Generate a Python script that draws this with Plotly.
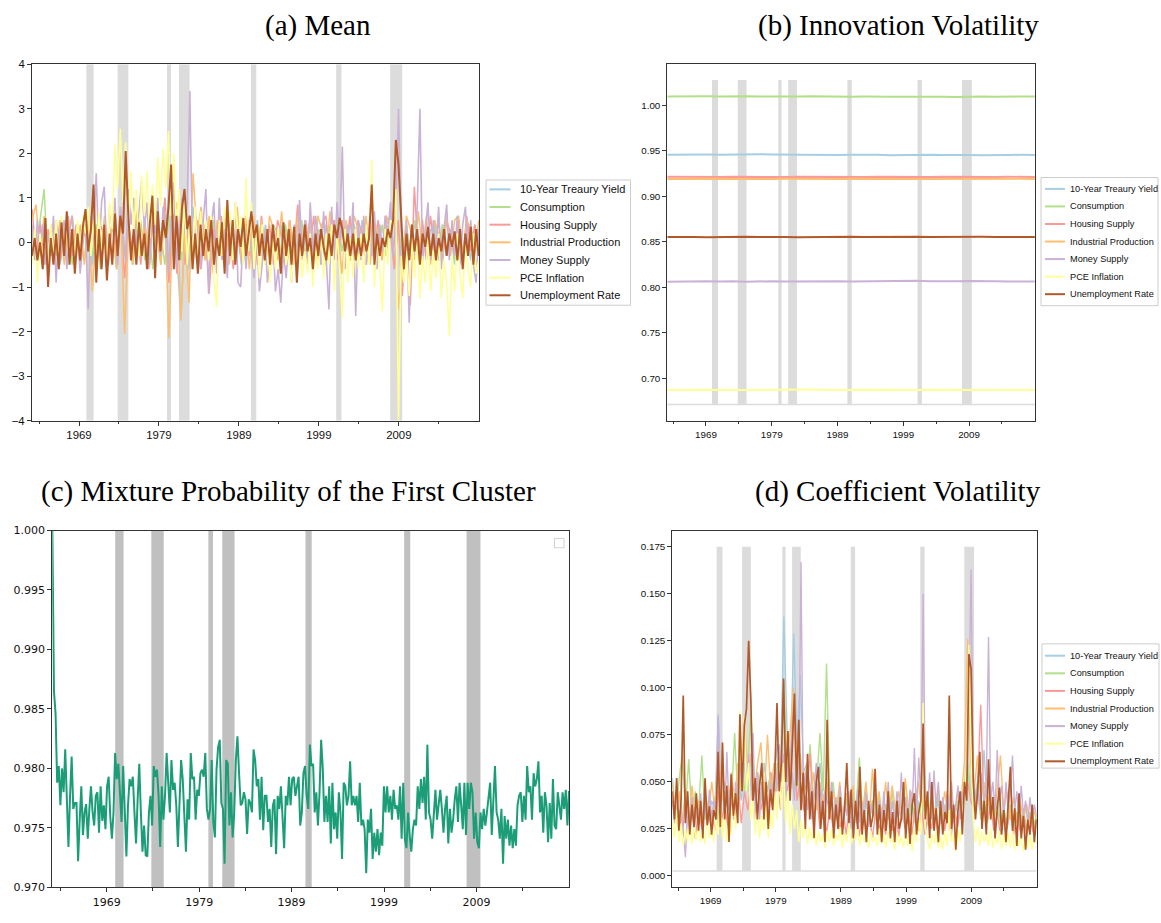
import numpy as np
import plotly.graph_objects as go

W, H = 1161, 923

# ---------------------------------------------------------------- data
START, END = 1963.125, 2019.0          # first / last observation (fractional year)

SERIES_NAMES = ["10-Year Treaury Yield", "Consumption", "Housing Supply",
                "Industrial Production", "Money Supply", "PCE Inflation",
                "Unemployment Rate"]
TICK_YEARS = [1969, 1979, 1989, 1999, 2009]
MINOR_YEARS = [1964, 1974, 1984, 1994, 2004, 2014]

# NBER recessions (fractional years)
REC_START = [1969.92, 1973.83, 1980.0, 1981.5, 1990.5, 2001.17, 2007.92]
REC_END = [1970.83, 1975.17, 1980.5, 1982.83, 1991.17, 2001.83, 2009.42]

# (a) mean
MEAN_TREASURY = [0.4,-0.3,0.5,-0.4,0.3,-0.2,0.4,-0.5,0.3,0.5,-0.3,0.4,-0.4,0.3,0.2,-0.5,0.4,-0.3,0.5,-0.2,0.4,-0.6,0.5,-0.3,
    0.4,-0.5,0.6,-0.3,0.5,-0.4,0.6,0.3,-0.5,1.0,-0.4,0.6,-0.3,-1.75,0.5,-0.6,0.8,-0.3,0.5,-0.4,0.3,-0.5,0.4,0.2,
    -0.4,0.5,-0.3,0.4,-0.5,0.3,0.2,-0.4,0.5,-0.3,0.4,-0.5,0.3,-0.2,0.4,-0.4,0.5,-0.3,0.4,0.2,-0.4,0.5,-0.3,0.3,
    -0.5,0.4,-0.2,0.5,-0.4,0.3,-0.3,0.4,0.2,-0.4,0.5,-0.3,0.4,-0.5,0.3,-0.2,0.4,0.6,-0.4,0.3,-0.5,0.4,-0.3,0.5,
    -0.2,0.4,-0.4,0.3,0.2,-0.4,0.4,-0.3,0.3,-0.5,0.4,-0.2,0.3,-0.4,0.4,-0.3]
MEAN_CONSUMPTION = [0.3,-0.4,0.5,1.2,-0.6,0.4,-0.3,0.5,-0.2,0.4,-0.5,0.3,0.2,-0.4,0.5,-0.3,0.4,-0.6,0.3,-0.2,0.5,-0.4,0.6,-0.3,
    0.4,-0.5,0.3,0.5,-0.4,0.3,-0.6,0.4,0.2,-0.5,0.6,-0.3,0.4,-0.4,0.5,-0.2,0.3,-0.5,0.4,0.2,-0.3,0.5,-0.4,0.3,
    -0.2,0.4,-0.5,0.3,0.1,-0.4,0.5,-0.3,0.4,-0.2,0.3,-0.5,0.4,0.2,-0.3,0.4,-0.4,0.3,-0.2,0.5,-0.3,0.4,-0.5,0.3,
    0.2,-0.4,0.4,-0.3,0.5,-0.2,0.3,-0.4,0.4,0.1,-0.3,0.5,-0.4,0.3,-0.2,0.4,-0.3,0.5,-0.5,0.3,-0.2,0.4,-0.3,0.5,
    -0.4,0.3,0.2,-0.4,0.5,-0.3,0.4,-0.2,0.3,-0.4,0.5,-0.3,0.3,0.4,-0.3,0.3]
MEAN_HOUSING = [0.75,-0.3,0.4,-0.5,0.3,-0.2,0.5,-0.4,0.2,0.6,-0.3,0.4,-0.6,0.3,-0.2,0.5,-0.6,0.4,0.1,-0.5,0.6,-0.3,0.5,-0.8,
    0.4,-0.2,0.6,-0.5,0.3,-0.6,0.5,0.9,-0.4,1.0,-0.9,0.5,-0.7,0.4,-0.5,0.6,-0.3,0.5,-0.6,0.4,-1.15,0.3,-0.4,0.6,
    -0.2,0.5,-0.6,0.3,-0.4,0.6,-0.3,0.5,-0.5,0.6,-0.3,0.4,-0.5,0.5,0.2,-0.4,0.5,-0.3,0.85,-0.4,0.5,-0.2,0.6,-0.5,
    0.4,0.6,-0.3,0.5,-0.4,0.5,-0.2,0.6,-0.4,0.5,0.2,-0.5,0.6,-0.3,0.5,-0.4,0.6,0.3,-0.6,0.5,-1.2,0.4,-1.4,1.25,
    -0.3,0.5,-0.4,0.6,-0.2,0.5,-0.4,0.5,0.2,-0.3,0.5,-0.4,0.6,-0.2,0.4,-0.3]
MEAN_INDPRO = [0.5,0.85,-0.3,0.6,-0.4,0.4,-0.2,0.5,-0.5,0.3,0.6,-0.3,0.4,-0.5,0.5,-1.1,0.3,-0.4,0.6,-0.2,0.5,-0.6,0.8,-2.05,
    0.4,-0.5,0.7,-0.3,0.5,-0.4,0.6,0.2,-0.5,0.7,-2.15,0.5,0.9,-1.75,0.3,-1.35,1.55,0.2,0.8,-0.4,0.6,-0.7,0.5,-0.3,
    0.7,-0.5,0.4,0.8,-0.4,0.5,-0.6,0.6,-0.2,0.5,-0.5,0.6,0.3,-0.4,0.7,-0.3,0.5,-0.5,0.6,0.2,-0.4,0.5,-0.6,0.6,
    0.3,-0.5,0.7,-0.3,0.2,-0.7,0.5,-0.4,0.6,0.3,-0.3,0.6,-0.5,0.5,0.2,-0.4,0.6,0.3,0.8,-1.5,-0.6,0.6,0.3,-0.4,
    0.7,-0.2,0.6,-0.5,0.5,0.2,-0.4,0.6,-0.3,0.5,0.6,-0.4,0.5,0.3,-0.3,0.5]
MEAN_MONEY = [0.3,-0.4,0.5,-0.2,0.4,-0.5,0.2,-0.3,0.6,-0.9,0.3,-0.2,0.5,-0.6,0.2,0.6,-0.4,0.3,-0.7,0.2,0.4,-1.5,0.6,0.1,
    1.55,-0.3,0.9,1.25,-0.4,0.8,0.3,1.0,-0.5,0.8,0.2,-0.4,1.2,0.4,1.0,-0.2,0.7,1.4,0.3,0.9,-0.5,0.6,0.2,1.0,
    -0.3,0.8,0.4,-0.7,0.5,1.35,-0.6,0.4,1.0,0.2,0.9,3.4,-0.4,0.6,0.2,-0.6,0.5,1.2,-1.15,0.4,0.9,-0.7,1.0,-0.4,
    0.3,-0.8,0.6,-0.3,0.9,-0.9,-1.0,0.3,-0.6,0.5,-0.2,-0.8,0.2,-1.1,-0.5,0.3,-0.9,-0.4,0.2,-1.1,-0.6,-1.35,-0.2,-0.8,
    0.1,-0.9,0.4,-0.5,0.95,-0.3,0.5,-0.6,0.9,-0.2,0.6,0.1,-0.5,0.7,-0.3,-1.5,0.8,-0.4,0.9,0.1,2.15,-0.6,0.4,-0.3,
    0.9,-1.65,0.5,-0.4,0.6,-0.5,0.3,-0.3,0.7,-0.6,0.4,-0.2,0.6,0.2,0.9,-0.3,0.5,3.0,0.3,-0.6,0.5,-1.8,0.4,-0.3,
    0.8,3.0,-0.5,0.3,0.9,-0.4,0.5,-0.2,0.8,-0.6,0.3,0.85,-0.4,0.5,-0.3,0.6,-0.5,0.4,0.8,-0.3,0.5,-0.5,-0.9,0.3]
MEAN_PCE = [-0.5,0.3,-0.9,0.2,-0.4,0.5,-0.6,0.4,-0.3,0.5,-0.5,0.6,-0.2,0.4,-0.5,0.3,-0.3,0.5,-0.2,0.6,0.2,0.8,-0.3,0.5,
    -0.4,0.7,-0.2,0.4,-0.5,0.9,0.3,2.2,1.2,2.55,0.9,2.25,0.5,1.6,0.2,1.2,-0.3,1.5,0.6,1.6,0.1,1.3,0.4,1.9,
    0.8,2.1,1.2,2.5,0.6,2.0,0.3,1.2,-0.2,0.9,-0.5,0.6,-0.3,0.8,-0.6,0.7,-0.2,0.5,-0.4,0.6,-0.8,-1.45,0.5,-0.3,
    0.8,0.2,0.7,-0.4,0.9,0.1,0.6,-0.5,1.45,-0.2,0.9,-0.6,0.3,-0.8,0.4,-0.5,0.2,-0.9,0.1,-0.6,0.3,-0.7,0.2,-0.5,
    -0.1,-0.9,0.3,-0.6,0.1,-0.8,-0.2,-0.7,0.2,-1.0,-0.1,-0.6,0.3,-0.8,0.2,-0.5,0.4,-1.1,0.2,-0.6,-1.7,0.3,-0.9,0.1,
    -0.8,0.3,-0.6,0.2,-0.9,0.4,-0.5,1.85,-1.0,0.2,-0.6,-1.55,0.3,-0.5,0.5,0.4,1.2,-4.0,-0.3,-0.9,-0.2,-1.2,0.1,-0.8,
    0.2,-1.25,-0.3,-0.9,0.1,-1.1,-0.2,-0.8,0.2,-1.25,-0.4,-0.9,-2.1,-0.3,-1.1,0.2,-0.7,-1.25,0.1,-0.6,-1.0,0.2,-0.7,-0.4]
MEAN_UNEMP = [-0.3,0.1,-0.4,0.0,-0.6,0.55,-1.0,0.1,-0.5,0.2,-0.6,0.45,-0.3,0.7,-0.5,0.3,-0.7,0.2,-0.4,0.35,0.75,-0.2,0.3,1.3,
    -0.9,0.3,-0.6,0.4,-0.85,0.2,-0.5,0.65,-0.3,0.6,0.2,2.05,0.6,-0.4,0.3,-0.5,0.45,-0.3,0.2,-0.6,0.4,1.05,-0.8,0.7,
    -0.2,0.5,0.1,0.8,1.75,-0.6,0.6,-0.4,0.75,1.2,0.3,0.6,-0.6,0.2,-0.7,0.4,-0.3,0.3,-0.2,0.5,-0.5,0.1,-0.3,0.45,
    -0.7,0.95,-0.3,0.5,-0.5,0.3,-0.1,0.55,-0.3,0.2,0.7,0.1,0.4,-0.3,0.2,-0.4,0.3,-0.5,0.4,-0.2,0.1,-0.7,0.45,-0.3,
    0.3,-0.5,0.35,-0.9,0.2,-0.3,0.4,-0.2,0.1,-0.6,0.2,-0.3,0.3,-0.1,-0.4,0.2,-0.3,0.4,0.1,0.55,0.3,-0.2,0.2,-0.3,
    0.2,-0.4,0.1,-0.3,0.2,-0.2,0.1,1.3,-0.5,0.2,-0.3,0.1,-0.1,0.3,0.1,0.5,2.3,1.75,0.4,-0.6,0.2,-0.4,0.4,-0.2,
    0.3,-0.5,0.2,-0.1,0.35,-0.3,0.2,-0.4,0.1,-0.2,0.3,-0.3,0.2,-0.1,0.25,-0.4,0.3,-0.6,0.2,-0.3,0.35,-0.5,0.3,-0.3]

# (b) innovation volatility
IV_TREASURY = [0.9455,0.9458,0.9454,0.9457,0.9455,0.9459,0.9456,0.9461,0.9458,0.9456,0.9459,0.9455,0.9457,0.9454,0.9456,
    0.9458,0.9455,0.9450,0.9453,0.9456,0.9455,0.9452,0.9456,0.9454,0.9451,0.9456,0.9453,0.9455,0.9454]
IV_CONSUMPTION = [1.0096,1.0099,1.0095,1.0098,1.0096,1.0099,1.0097,1.0094,1.0097,1.0099,1.0096,1.0098,1.0095,1.0097,1.0092,
    1.0094,1.0096,1.0093,1.0091,1.0094,1.0097,1.0093,1.0090,1.0095,1.0096,1.0093,1.0092,1.0095,1.0096]
IV_HOUSING = [0.9213,0.9211,0.9214,0.9212,0.9210,0.9213,0.9211,0.9214,0.9212,0.9210,0.9213,0.9211,0.9212,0.9209,0.9212,
    0.9210,0.9213,0.9211,0.9209,0.9212,0.9210,0.9213,0.9211,0.9210,0.9212,0.9211,0.9213,0.9210,0.9212]
IV_INDPRO = [0.9190,0.9192,0.9189,0.9191,0.9193,0.9190,0.9188,0.9191,0.9190,0.9192,0.9189,0.9191,0.9190,0.9188,0.9191,
    0.9189,0.9192,0.9190,0.9188,0.9190,0.9191,0.9189,0.9192,0.9190,0.9189,0.9191,0.9190,0.9192,0.9190]
IV_MONEY = [0.8062,0.8066,0.8063,0.8067,0.8064,0.8068,0.8061,0.8065,0.8068,0.8064,0.8066,0.8063,0.8065,0.8067,0.8064,
    0.8066,0.8069,0.8065,0.8067,0.8071,0.8066,0.8064,0.8068,0.8070,0.8065,0.8067,0.8064,0.8066,0.8065]
IV_PCE = [0.6872,0.6875,0.6873,0.6876,0.6874,0.6870,0.6874,0.6876,0.6873,0.6875,0.6877,0.6874,0.6876,0.6875,0.6873,
    0.6876,0.6874,0.6875,0.6877,0.6874,0.6876,0.6873,0.6875,0.6872,0.6874,0.6876,0.6873,0.6875,0.6874]
IV_UNEMP = [0.8552,0.8555,0.8553,0.8551,0.8554,0.8552,0.8555,0.8553,0.8556,0.8553,0.8551,0.8554,0.8552,0.8553,0.8555,
    0.8552,0.8554,0.8551,0.8553,0.8555,0.8552,0.8554,0.8553,0.8551,0.8554,0.8552,0.8553,0.8555,0.8552]

# (c) mixture probability of the first cluster
MIX_PROB = [1.0000,0.9865,0.9846,0.9788,0.9802,0.9769,0.9800,0.9780,0.9816,0.9766,0.9734,0.9777,0.9810,0.9766,0.9771,
    0.9771,0.9722,0.9757,0.9785,0.9744,0.9763,0.9770,0.9741,0.9766,0.9785,0.9763,0.9752,0.9777,0.9780,0.9746,0.9785,
    0.9756,0.9769,0.9749,0.9785,0.9793,0.9759,0.9741,0.9763,0.9813,0.9791,0.9804,0.9777,0.9755,0.9802,0.9769,0.9726,
    0.9769,0.9791,0.9785,0.9793,0.9763,0.9737,0.9774,0.9804,0.9763,0.9730,0.9752,0.9727,0.9726,0.9763,0.9777,0.9752,
    0.9802,0.9793,0.9799,0.9777,0.9734,0.9785,0.9757,0.9777,0.9813,0.9785,0.9763,0.9807,0.9782,0.9788,0.9769,0.9734,
    0.9769,0.9807,0.9791,0.9766,0.9730,0.9774,0.9757,0.9813,0.9791,0.9793,0.9757,0.9782,0.9777,0.9796,0.9799,0.9793,
    0.9813,0.9766,0.9757,0.9766,0.9807,0.9755,0.9742,0.9799,0.9818,0.9824,0.9771,0.9766,0.9720,0.9807,0.9804,0.9752,
    0.9780,0.9742,0.9763,0.9807,0.9827,0.9796,0.9769,0.9771,0.9780,0.9774,0.9745,0.9774,0.9771,0.9763,0.9816,0.9807,
    0.9785,0.9791,0.9757,0.9793,0.9748,0.9777,0.9777,0.9755,0.9766,0.9734,0.9769,0.9774,0.9728,0.9777,0.9766,0.9785,
    0.9763,0.9733,0.9777,0.9769,0.9793,0.9769,0.9791,0.9793,0.9777,0.9785,0.9793,0.9752,0.9763,0.9796,0.9802,0.9777,
    0.9766,0.9820,0.9802,0.9804,0.9763,0.9780,0.9752,0.9780,0.9824,0.9800,0.9755,0.9777,0.9755,0.9785,0.9737,0.9788,
    0.9749,0.9763,0.9741,0.9780,0.9763,0.9724,0.9788,0.9785,0.9769,0.9777,0.9806,0.9769,0.9777,0.9769,0.9777,0.9755,
    0.9788,0.9752,0.9757,0.9749,0.9712,0.9757,0.9746,0.9766,0.9724,0.9746,0.9730,0.9749,0.9727,0.9746,0.9735,0.9785,
    0.9763,0.9785,0.9763,0.9777,0.9757,0.9782,0.9766,0.9769,0.9757,0.9785,0.9741,0.9788,0.9741,0.9733,0.9763,0.9744,
    0.9730,0.9749,0.9757,0.9752,0.9785,0.9766,0.9791,0.9771,0.9793,0.9757,0.9820,0.9763,0.9757,0.9741,0.9766,0.9782,
    0.9757,0.9771,0.9782,0.9766,0.9746,0.9766,0.9777,0.9737,0.9766,0.9746,0.9757,0.9774,0.9785,0.9755,0.9788,0.9769,
    0.9749,0.9788,0.9744,0.9788,0.9766,0.9788,0.9780,0.9741,0.9763,0.9738,0.9733,0.9763,0.9749,0.9766,0.9752,0.9763,
    0.9777,0.9788,0.9744,0.9769,0.9802,0.9763,0.9757,0.9741,0.9766,0.9720,0.9760,0.9741,0.9757,0.9735,0.9752,0.9733,
    0.9749,0.9735,0.9769,0.9777,0.9780,0.9755,0.9777,0.9757,0.9802,0.9780,0.9785,0.9757,0.9796,0.9785,0.9791,0.9806,
    0.9763,0.9777,0.9746,0.9780,0.9769,0.9738,0.9771,0.9741,0.9791,0.9752,0.9749,0.9780,0.9769,0.9757,0.9780,0.9766,
    0.9782,0.9752,0.9781]

# (d) coefficient volatility
CV_TREASURY = [0.052,0.030,0.045,0.028,0.040,0.025,0.042,0.030,0.038,0.026,0.044,0.030,0.040,0.035,0.086,0.040,0.045,0.035,
    0.050,0.038,0.055,0.040,0.060,0.045,0.065,0.045,0.055,0.040,0.060,0.045,0.055,0.050,0.070,0.060,0.138,0.075,
    0.060,0.129,0.070,0.107,0.055,0.060,0.045,0.055,0.040,0.060,0.040,0.050,0.035,0.048,0.032,0.045,0.030,0.042,
    0.030,0.044,0.028,0.040,0.030,0.046,0.028,0.040,0.030,0.042,0.028,0.038,0.030,0.040,0.028,0.038,0.030,0.042,
    0.028,0.038,0.030,0.040,0.032,0.044,0.028,0.038,0.030,0.040,0.028,0.036,0.030,0.042,0.030,0.040,0.035,0.050,
    0.055,0.045,0.040,0.050,0.035,0.067,0.035,0.045,0.030,0.040,0.028,0.036,0.026,0.035,0.028,0.034,0.026,0.033,
    0.025,0.032,0.026,0.030]
CV_CONSUMPTION = [0.040,0.030,0.050,0.065,0.035,0.062,0.030,0.045,0.035,0.064,0.030,0.040,0.028,0.042,0.030,0.050,0.035,0.045,
    0.040,0.076,0.040,0.055,0.045,0.060,0.087,0.045,0.055,0.040,0.050,0.045,0.055,0.040,0.060,0.050,0.104,0.050,
    0.060,0.045,0.055,0.040,0.050,0.045,0.070,0.040,0.050,0.076,0.045,0.113,0.040,0.050,0.030,0.045,0.028,0.040,
    0.030,0.048,0.035,0.063,0.030,0.042,0.028,0.040,0.030,0.044,0.026,0.038,0.030,0.045,0.028,0.040,0.035,0.050,
    0.030,0.042,0.028,0.038,0.030,0.044,0.026,0.040,0.030,0.042,0.028,0.038,0.030,0.045,0.032,0.040,0.035,0.050,
    0.060,0.045,0.035,0.048,0.030,0.042,0.028,0.038,0.030,0.040,0.026,0.036,0.028,0.038,0.025,0.034,0.028,0.036,
    0.024,0.034,0.026,0.032]
CV_HOUSING = [0.040,0.028,0.035,0.022,0.038,0.026,0.034,0.020,0.036,0.025,0.040,0.028,0.035,0.024,0.045,0.030,0.038,0.025,
    0.040,0.030,0.050,0.028,0.045,0.035,0.050,0.030,0.048,0.035,0.045,0.030,0.055,0.040,0.050,0.035,0.060,0.045,
    0.055,0.095,0.040,0.050,0.035,0.045,0.065,0.030,0.042,0.025,0.038,0.022,0.036,0.026,0.040,0.024,0.035,0.022,
    0.038,0.025,0.034,0.021,0.036,0.024,0.033,0.020,0.035,0.025,0.032,0.022,0.036,0.024,0.034,0.021,0.035,0.025,
    0.033,0.022,0.036,0.024,0.035,0.022,0.034,0.025,0.036,0.022,0.033,0.024,0.035,0.021,0.036,0.026,0.040,0.045,
    0.050,0.040,0.035,0.045,0.091,0.035,0.030,0.038,0.024,0.034,0.022,0.033,0.025,0.035,0.022,0.032,0.024,0.034,
    0.021,0.032,0.023,0.030]
CV_INDPRO = [0.050,0.030,0.045,0.028,0.046,0.025,0.048,0.030,0.040,0.028,0.045,0.032,0.050,0.035,0.072,0.040,0.050,0.035,
    0.055,0.040,0.060,0.045,0.085,0.050,0.065,0.045,0.060,0.071,0.040,0.075,0.045,0.060,0.050,0.065,0.055,0.060,
    0.079,0.100,0.055,0.065,0.045,0.060,0.040,0.055,0.035,0.050,0.038,0.052,0.030,0.045,0.035,0.050,0.030,0.044,
    0.032,0.048,0.030,0.046,0.034,0.050,0.030,0.057,0.035,0.045,0.030,0.050,0.032,0.048,0.035,0.045,0.030,0.052,
    0.035,0.045,0.040,0.050,0.035,0.046,0.030,0.044,0.032,0.048,0.030,0.045,0.035,0.050,0.030,0.045,0.040,0.060,
    0.126,0.060,0.045,0.064,0.040,0.050,0.035,0.048,0.030,0.045,0.064,0.035,0.045,0.030,0.042,0.028,0.040,0.030,
    0.038,0.028,0.036,0.030]
CV_MONEY = [0.040,0.028,0.045,0.030,0.038,0.025,0.010,0.035,0.028,0.042,0.024,0.036,0.030,0.044,0.025,0.038,0.028,0.046,
    0.030,0.040,0.035,0.085,0.040,0.055,0.030,0.066,0.035,0.048,0.030,0.050,0.035,0.060,0.045,0.070,0.050,0.065,
    0.040,0.076,0.035,0.055,0.030,0.050,0.035,0.045,0.030,0.050,0.038,0.060,0.045,0.070,0.050,0.065,0.040,0.060,
    0.045,0.055,0.040,0.065,0.050,0.167,0.045,0.055,0.035,0.050,0.030,0.045,0.060,0.035,0.048,0.030,0.045,0.040,
    0.035,0.050,0.028,0.042,0.030,0.048,0.026,0.040,0.032,0.045,0.025,0.038,0.030,0.046,0.028,0.040,0.030,0.044,
    0.026,0.038,0.032,0.048,0.028,0.040,0.030,0.045,0.026,0.050,0.030,0.040,0.028,0.045,0.032,0.055,0.030,0.042,
    0.028,0.046,0.035,0.068,0.030,0.063,0.040,0.150,0.045,0.035,0.055,0.030,0.056,0.035,0.050,0.028,0.042,0.030,
    0.045,0.035,0.050,0.028,0.040,0.048,0.030,0.045,0.038,0.060,0.090,0.163,0.055,0.040,0.048,0.035,0.055,0.040,
    0.050,0.127,0.040,0.050,0.035,0.067,0.040,0.048,0.030,0.050,0.035,0.045,0.064,0.035,0.045,0.030,0.048,0.032,
    0.040,0.028,0.042,0.030,0.038,0.032]
CV_PCE = [0.030,0.020,0.035,0.018,0.028,0.016,0.025,0.018,0.030,0.017,0.026,0.019,0.028,0.018,0.024,0.017,0.030,0.020,
    0.026,0.018,0.032,0.022,0.040,0.020,0.035,0.018,0.030,0.022,0.045,0.025,0.040,0.088,0.050,0.085,0.045,0.060,
    0.030,0.040,0.022,0.036,0.020,0.032,0.024,0.038,0.020,0.034,0.025,0.045,0.030,0.055,0.035,0.060,0.028,0.045,
    0.022,0.038,0.025,0.035,0.018,0.030,0.020,0.028,0.017,0.026,0.019,0.025,0.016,0.024,0.018,0.022,0.015,0.024,
    0.018,0.025,0.016,0.022,0.019,0.026,0.015,0.023,0.018,0.028,0.017,0.022,0.019,0.025,0.016,0.024,0.018,0.022,
    0.015,0.024,0.018,0.021,0.016,0.025,0.017,0.022,0.015,0.024,0.018,0.020,0.014,0.023,0.017,0.021,0.015,0.024,
    0.016,0.022,0.013,0.025,0.018,0.030,0.022,0.092,0.025,0.020,0.014,0.022,0.017,0.024,0.015,0.021,0.014,0.023,
    0.016,0.035,0.018,0.022,0.013,0.025,0.018,0.030,0.040,0.060,0.123,0.070,0.030,0.018,0.026,0.016,0.024,0.018,
    0.022,0.016,0.025,0.015,0.021,0.017,0.024,0.014,0.022,0.016,0.023,0.015,0.024,0.014,0.021,0.016,0.022,0.013,
    0.020,0.015,0.022,0.014,0.020,0.017]
CV_UNEMP = [0.045,0.030,0.052,0.024,0.040,0.096,0.028,0.045,0.022,0.038,0.026,0.044,0.024,0.040,0.020,0.052,0.027,0.037,
    0.022,0.035,0.030,0.066,0.026,0.071,0.030,0.048,0.018,0.054,0.032,0.044,0.028,0.086,0.045,0.080,0.089,0.125,
    0.094,0.040,0.052,0.030,0.048,0.060,0.030,0.050,0.025,0.046,0.035,0.055,0.092,0.045,0.060,0.105,0.050,0.077,
    0.040,0.065,0.097,0.048,0.083,0.035,0.055,0.025,0.065,0.030,0.045,0.020,0.050,0.058,0.025,0.040,0.018,0.083,
    0.030,0.045,0.020,0.038,0.025,0.042,0.022,0.036,0.060,0.028,0.046,0.020,0.040,0.025,0.058,0.022,0.035,0.018,
    0.040,0.026,0.032,0.057,0.022,0.038,0.018,0.035,0.024,0.045,0.020,0.034,0.018,0.040,0.025,0.030,0.050,0.020,
    0.036,0.017,0.038,0.044,0.022,0.034,0.040,0.081,0.030,0.045,0.020,0.050,0.024,0.036,0.018,0.040,0.022,0.034,
    0.028,0.096,0.025,0.038,0.014,0.035,0.045,0.022,0.050,0.040,0.118,0.110,0.050,0.030,0.045,0.066,0.025,0.040,
    0.022,0.062,0.030,0.042,0.020,0.036,0.047,0.022,0.035,0.018,0.040,0.058,0.024,0.036,0.016,0.044,0.020,0.032,
    0.014,0.030,0.022,0.038,0.018,0.030]

# ---------------------------------------------------------------- style
COLORS = ["#a6cee3", "#b2df8a", "#fb9a99", "#fdbf6f", "#cab2d6", "#ffff99", "#b15928"]
MIX_COLOR = "#1b9e77"
SHADE = "#dcdcdc"
SHADE_DARK = "#c0c0c0"
AXIS_COLOR = "#333333"
X_RANGE = [1963.12, 2019.03]


def px_x(v):
    return v / W


def px_y(v):
    return 1 - v / H


def time_grid(values):
    return np.linspace(START, END, len(values))


fig = go.Figure()

panels = {
    "a": dict(xa="x", ya="y", series=[MEAN_TREASURY, MEAN_CONSUMPTION, MEAN_HOUSING, MEAN_INDPRO,
                                      MEAN_MONEY, MEAN_PCE, MEAN_UNEMP],
              widths=[1.5, 1.5, 1.5, 1.5, 1.6, 1.6, 2.0]),
    "b": dict(xa="x2", ya="y2", series=[IV_TREASURY, IV_CONSUMPTION, IV_HOUSING, IV_INDPRO,
                                        IV_MONEY, IV_PCE, IV_UNEMP],
              widths=[2.0] * 7),
    "d": dict(xa="x4", ya="y4", series=[CV_TREASURY, CV_CONSUMPTION, CV_HOUSING, CV_INDPRO,
                                        CV_MONEY, CV_PCE, CV_UNEMP],
              widths=[1.4, 1.4, 1.4, 1.4, 1.4, 1.5, 1.7]),
}

for key, p in panels.items():
    for name, vals, col, w in zip(SERIES_NAMES, p["series"], COLORS, p["widths"]):
        fig.add_trace(go.Scatter(x=time_grid(vals), y=vals, mode="lines", name=name,
                                 line=dict(color=col, width=w), xaxis=p["xa"], yaxis=p["ya"],
                                 showlegend=False, hoverinfo="skip"))

fig.add_trace(go.Scatter(x=time_grid(MIX_PROB), y=MIX_PROB, mode="lines",
                         line=dict(color=MIX_COLOR, width=2.0), xaxis="x3", yaxis="y3",
                         showlegend=False, hoverinfo="skip"))

# recession shading: (xref, yref, low, high, colour, draw baseline)
shade_spec = [("x", "y", -4.0, 4.0, SHADE, False),
              ("x2", "y2", 0.6713, 1.0277, SHADE, True),
              ("x3", "y3", 0.970, 1.000, SHADE_DARK, False),
              ("x4", "y4", 0.0026, 0.175, SHADE, True)]
for xr, yr, lo, hi, col, base in shade_spec:
    for s, e in zip(REC_START, REC_END):
        fig.add_shape(type="rect", xref=xr, yref=yr, x0=s, x1=e, y0=lo, y1=hi,
                      fillcolor=col, line_width=0, layer="below")
    if base:
        fig.add_shape(type="line", xref=xr, yref=yr, x0=START, x1=END, y0=lo, y1=lo,
                      line=dict(color=col, width=1.6), layer="below")


def x_axis(domain, font, anchor):
    return dict(domain=domain, anchor=anchor, range=X_RANGE, tickmode="array",
                tickvals=TICK_YEARS, ticktext=[str(t) for t in TICK_YEARS],
                ticks="outside", ticklen=4, tickcolor=AXIS_COLOR, tickfont=font,
                showline=True, mirror=True, linecolor=AXIS_COLOR, linewidth=1,
                showgrid=False, zeroline=False,
                minor=dict(tickvals=MINOR_YEARS, ticks="outside", ticklen=2.5,
                           tickcolor=AXIS_COLOR, showgrid=False))


def y_axis(domain, rng, vals, texts, font, anchor):
    return dict(domain=domain, anchor=anchor, range=rng, tickmode="array",
                tickvals=vals, ticktext=texts, ticks="outside", ticklen=4,
                tickcolor=AXIS_COLOR, tickfont=font, showline=True, mirror=True,
                linecolor=AXIS_COLOR, linewidth=1, showgrid=False, zeroline=False)


font_a = dict(family="Liberation Sans, DejaVu Sans", size=11.4, color="#111")
font_c = dict(family="DejaVu Sans", size=11, color="#111")
font_n = dict(family="Liberation Sans, DejaVu Sans", size=9.8, color="#111")

ya_vals = list(range(-4, 5))
yb_vals = [0.70, 0.75, 0.80, 0.85, 0.90, 0.95, 1.00]
yc_vals = [0.970, 0.975, 0.980, 0.985, 0.990, 0.995, 1.000]
yd_vals = [0.000, 0.025, 0.050, 0.075, 0.100, 0.125, 0.150, 0.175]

dom_a_x = [px_x(32), px_x(479)]
dom_b_x = [px_x(667.3), px_x(1035)]
dom_c_x = [px_x(52.3), px_x(569.3)]
dom_d_x = [px_x(672.3), px_x(1036.7)]
dom_top_y = [px_y(420.7), px_y(59)]
dom_bot_y = [px_y(894), px_y(532)]

fig.update_layout(
    xaxis=x_axis(dom_a_x, font_a, "y"),
    yaxis=y_axis(dom_top_y, [-4, 4], ya_vals,
                 [str(v).replace("-", "\u2212") for v in ya_vals], font_a, "x"),
    xaxis2=x_axis(dom_b_x, font_n, "y2"),
    yaxis2=y_axis(dom_top_y, [0.6535, 1.045], yb_vals, [f"{v:.2f}" for v in yb_vals], font_n, "x2"),
    xaxis3=x_axis(dom_c_x, font_c, "y3"),
    yaxis3=y_axis(dom_bot_y, [0.970, 1.000], yc_vals, [f"{v:.3f}" for v in yc_vals], font_c, "x3"),
    xaxis4=x_axis(dom_d_x, font_n, "y4"),
    yaxis4=y_axis(dom_bot_y, [-0.0061, 0.1837], yd_vals, [f"{v:.3f}" for v in yd_vals], font_n, "x4"),
)

# panel titles
titles = [("(a) Mean", 318, 20), ("(b) Innovation Volatility", 898, 20),
          ("(c) Mixture Probability of the First Cluster", 288, 492),
          ("(d) Coefficient Volatility", 898, 492)]
for text, cx, cy in titles:
    fig.add_annotation(text=text, xref="paper", yref="paper", x=px_x(cx), y=px_y(cy),
                       xanchor="center", yanchor="middle", showarrow=False,
                       font=dict(family="Liberation Serif, DejaVu Serif", size=29, color="#000"))


# framed legends drawn next to panels (a), (b) and (d)
def add_legend(box, row0, step, line_x, text_x, font):
    x0, y0, x1, y1 = box
    fig.add_shape(type="rect", xref="paper", yref="paper", x0=px_x(x0), x1=px_x(x1),
                  y0=px_y(y1), y1=px_y(y0), line=dict(color="#cccccc", width=1),
                  fillcolor="white", layer="above")
    for i, (name, col) in enumerate(zip(SERIES_NAMES, COLORS)):
        yy = row0 + i * step
        fig.add_shape(type="line", xref="paper", yref="paper", x0=px_x(line_x[0]),
                      x1=px_x(line_x[1]), y0=px_y(yy), y1=px_y(yy),
                      line=dict(color=col, width=2), layer="above")
        fig.add_annotation(text=name, xref="paper", yref="paper", x=px_x(text_x), y=px_y(yy),
                           xanchor="left", yanchor="middle", showarrow=False, font=font)


legend_font_a = dict(family="Liberation Sans, DejaVu Sans", size=11, color="#111")
legend_font_n = dict(family="Liberation Sans, DejaVu Sans", size=9.2, color="#111")
add_legend((486, 176.5, 630.5, 303.5), 186, 17.9, (489.5, 510.5), 517.5, legend_font_a)
add_legend((1041, 174, 1158, 304), 185.5, 17.8, (1045, 1065), 1068, legend_font_n)
add_legend((1042, 647, 1159, 773), 659, 17.85, (1045, 1065), 1068, legend_font_n)

# empty legend frame in panel (c)
fig.add_shape(type="rect", xref="paper", yref="paper", x0=px_x(554.5), x1=px_x(564),
              y0=px_y(549.5), y1=px_y(540), line=dict(color="#d0d0d0", width=1),
              fillcolor="white", layer="above")

fig.update_layout(width=W, height=H, margin=dict(l=0, r=0, t=0, b=0),
                  paper_bgcolor="white", plot_bgcolor="white", showlegend=False)

fig.write_html("out.html")
